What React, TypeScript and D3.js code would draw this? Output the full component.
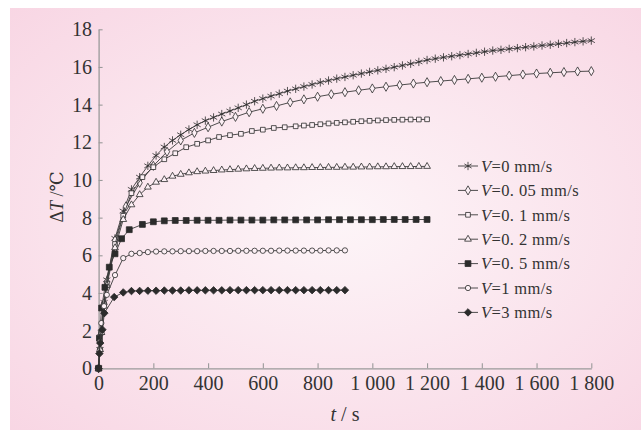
import { useEffect, useRef } from "react";
import * as d3 from "d3";

// legend speeds (mm/s)
const speedLabels = ["0", "0. 05", "0. 1", "0. 2", "0. 5", "1", "3"];
const xTickValues = [0, 200, 400, 600, 800, 1000, 1200, 1400, 1600, 1800];
const yTickValues = [0, 2, 4, 6, 8, 10, 12, 14, 16, 18];

// V = 0 mm/s
const timeV0 = [
  0, 5, 10, 20, 30, 60, 90, 120, 150, 180, 210, 240, 270, 300, 330, 360, 390, 420, 450, 480,
  510, 540, 570, 600, 630, 660, 690, 720, 750, 780, 810, 840, 870, 900, 930, 960, 990, 1020,
  1050, 1080, 1110, 1140, 1170, 1200, 1230, 1260, 1290, 1320, 1350, 1380, 1410, 1440, 1470,
  1500, 1530, 1560, 1590, 1620, 1650, 1680, 1710, 1740, 1770, 1800,
];
const tempV0 = [
  0, 1.0, 1.9, 3.5, 4.7, 6.9, 8.35, 9.5, 10.15, 10.75, 11.3, 11.75, 12.1, 12.4, 12.68, 12.93,
  13.15, 13.32, 13.5, 13.66, 13.83, 14.0, 14.18, 14.32, 14.45, 14.58, 14.72, 14.84, 14.96,
  15.07, 15.18, 15.28, 15.38, 15.47, 15.56, 15.65, 15.74, 15.82, 15.9, 15.99, 16.08, 16.17,
  16.27, 16.37, 16.44, 16.51, 16.57, 16.63, 16.69, 16.75, 16.81, 16.87, 16.91, 16.96, 17.0,
  17.05, 17.09, 17.14, 17.18, 17.23, 17.27, 17.32, 17.36, 17.4,
];

// V = 0.05 mm/s
const timeV005 = [
  0, 5, 10, 20, 30, 60, 100, 150, 200, 250, 300, 350, 400, 450, 500, 550, 600, 650, 700, 750,
  800, 850, 900, 950, 1000, 1050, 1100, 1150, 1200, 1250, 1300, 1350, 1400, 1450, 1500, 1550,
  1600, 1650, 1700, 1750, 1800,
];
const tempV005 = [
  0, 1.0, 1.9, 3.45, 4.6, 6.8, 8.6, 9.85, 10.75, 11.5, 12.1, 12.5, 12.8, 13.1, 13.35, 13.6,
  13.78, 13.93, 14.12, 14.28, 14.42, 14.55, 14.66, 14.76, 14.86, 14.95, 15.04, 15.12, 15.19,
  15.25, 15.31, 15.37, 15.43, 15.48, 15.54, 15.6, 15.65, 15.69, 15.73, 15.76, 15.78,
];

// V = 0.1 mm/s
const timeV01 = [
  0, 5, 10, 20, 30, 60, 90, 120, 160, 200, 240, 280, 320, 360, 400, 440, 480, 520, 560, 600,
  640, 680, 720, 750, 780, 810, 840, 870, 900, 930, 960, 990, 1020, 1050, 1080, 1110, 1140,
  1170, 1200,
];
const tempV01 = [
  0, 1.0, 1.9, 3.4, 4.5, 6.6, 8.1, 9.3, 10.15, 10.68, 11.1, 11.42, 11.74, 11.92, 12.1, 12.28,
  12.38, 12.45, 12.6, 12.67, 12.76, 12.8, 12.85, 12.89, 12.92, 12.96, 13.0, 13.03, 13.06,
  13.09, 13.12, 13.14, 13.16, 13.18, 13.19, 13.2, 13.21, 13.21, 13.22,
];

// V = 0.2 mm/s
const timeV02 = [
  0, 5, 10, 20, 30, 60, 90, 120, 150, 180, 210, 240, 270, 300, 330, 360, 390, 420, 450, 480,
  510, 540, 570, 600, 630, 660, 690, 720, 750, 780, 810, 840, 870, 900, 930, 960, 990, 1020,
  1050, 1080, 1110, 1140, 1170, 1200,
];
const tempV02 = [
  0, 1.0, 1.9, 3.3, 4.4, 6.4, 7.9, 8.68, 9.22, 9.62, 9.88, 10.02, 10.2, 10.3, 10.38, 10.44,
  10.47, 10.5, 10.53, 10.55, 10.57, 10.59, 10.61, 10.62, 10.63, 10.64, 10.64, 10.65, 10.65,
  10.66, 10.66, 10.67, 10.67, 10.68, 10.68, 10.69, 10.69, 10.7, 10.7, 10.71, 10.71, 10.71,
  10.72, 10.72,
];

// V = 0.5 mm/s
const timeV05 = [
  0, 3, 11, 23, 39, 60, 84, 112, 160, 200, 240, 280, 320, 360, 400, 440, 480, 520, 560, 600,
  640, 680, 720, 760, 800, 840, 880, 920, 960, 1000, 1040, 1080, 1120, 1160, 1200,
];
const tempV05 = [
  0, 1.6, 3.2, 4.3, 5.37, 6.08, 6.88, 7.36, 7.64, 7.78, 7.83, 7.85, 7.85, 7.86, 7.86, 7.86,
  7.87, 7.87, 7.87, 7.87, 7.88, 7.88, 7.88, 7.88, 7.88, 7.89, 7.89, 7.89, 7.89, 7.89, 7.9,
  7.9, 7.9, 7.9, 7.9,
];

// V = 1 mm/s
const timeV1 = [
  0, 5, 10, 20, 30, 60, 90, 120, 150, 180, 210, 240, 270, 300, 330, 360, 390, 420, 450, 480,
  510, 540, 570, 600, 630, 660, 690, 720, 750, 780, 810, 840, 870, 900,
];
const tempV1 = [
  0, 1.4, 2.4, 3.3, 3.9, 4.95, 5.85, 6.08, 6.12, 6.17, 6.2, 6.21, 6.21, 6.22, 6.22, 6.22,
  6.23, 6.23, 6.23, 6.23, 6.24, 6.24, 6.24, 6.24, 6.24, 6.25, 6.25, 6.25, 6.25, 6.25, 6.25,
  6.26, 6.26, 6.26,
];

// V = 3 mm/s
const timeV3 = [
  0, 3, 6, 14, 21, 57, 90, 120, 150, 180, 210, 240, 270, 300, 330, 360, 390, 420, 450, 480,
  510, 540, 570, 600, 630, 660, 690, 720, 750, 780, 810, 840, 870, 900,
];
const tempV3 = [
  0, 0.78, 1.34, 2.05, 2.93, 3.78, 4.03, 4.1, 4.11, 4.12, 4.12, 4.13, 4.13, 4.13, 4.14, 4.14,
  4.14, 4.14, 4.14, 4.15, 4.15, 4.15, 4.15, 4.15, 4.15, 4.15, 4.15, 4.15, 4.15, 4.15, 4.15,
  4.15, 4.15, 4.15,
];

const seriesTimes = [timeV0, timeV005, timeV01, timeV02, timeV05, timeV1, timeV3];
const seriesTemps = [tempV0, tempV005, tempV01, tempV02, tempV05, tempV1, tempV3];

const ink = "#2b2b2b";
const hollow = "#fcf0f5";
const serif = "'Liberation Serif', 'DejaVu Serif', serif";

function App() {
  const svgRef = useRef<SVGSVGElement>(null);

  useEffect(() => {
    const svg = d3.select(svgRef.current);
    svg.selectAll("*").remove();

    const x = d3.scaleLinear().domain([0, 1800]).range([98.6, 591.3]);
    const y = d3.scaleLinear().domain([0, 18]).range([368.3, 29.3]);

    const markers = [
      { symbol: d3.symbolAsterisk, size: 48, fill: "none" },
      { symbol: d3.symbolDiamond, size: 24, fill: hollow },
      { symbol: d3.symbolSquare, size: 22, fill: hollow },
      { symbol: d3.symbolTriangle, size: 20, fill: hollow },
      { symbol: d3.symbolSquare, size: 34, fill: ink },
      { symbol: d3.symbolCircle, size: 22, fill: hollow },
      { symbol: d3.symbolDiamond2 || d3.symbolDiamond, size: 36, fill: ink },
    ];

    // pink panel
    const grad = svg
      .append("defs")
      .append("radialGradient")
      .attr("id", "panelBg")
      .attr("cx", "52%")
      .attr("cy", "50%")
      .attr("r", "75%");
    grad.append("stop").attr("offset", "0%").attr("stop-color", "#fdf5f8");
    grad.append("stop").attr("offset", "100%").attr("stop-color", "#f8d5e3");
    svg
      .append("rect")
      .attr("x", 10)
      .attr("y", 8)
      .attr("width", 631)
      .attr("height", 422)
      .attr("fill", "url(#panelBg)");

    // axes
    const fmt = (d: number) =>
      d >= 1000 ? `${Math.floor(d / 1000)} ${String(d % 1000).padStart(3, "0")}` : `${d}`;

    const gx = svg
      .append("g")
      .attr("transform", `translate(0,${y(0)})`)
      .call(
        d3
          .axisBottom(x)
          .tickValues(xTickValues)
          .tickSizeInner(-5)
          .tickSizeOuter(0)
          .tickPadding(7.5)
          .tickFormat(fmt as any)
      );

    const gy = svg
      .append("g")
      .attr("transform", `translate(${x(0)},0)`)
      .call(
        d3
          .axisLeft(y)
          .tickValues(yTickValues)
          .tickSizeInner(-4)
          .tickSizeOuter(0)
          .tickPadding(6.5)
      );

    [gx, gy].forEach((g) => {
      g.attr("font-family", serif).attr("font-size", 20);
      g.select(".domain").attr("stroke", "#9a9a9a").attr("stroke-width", 1.3);
      g.selectAll(".tick line").attr("stroke", "#9a9a9a").attr("stroke-width", 1.1);
      g.selectAll(".tick text").attr("fill", "#333");
    });

    // axis titles
    const yTitle = svg
      .append("text")
      .attr("transform", "translate(57,197) rotate(-90)")
      .attr("text-anchor", "middle")
      .attr("dominant-baseline", "central")
      .attr("font-family", serif)
      .attr("font-size", 18)
      .attr("fill", "#333");
    yTitle.append("tspan").text("Δ");
    yTitle.append("tspan").attr("font-style", "italic").text("T");
    yTitle.append("tspan").text(" /℃");

    const xTitle = svg
      .append("text")
      .attr("x", 345)
      .attr("y", 421)
      .attr("text-anchor", "middle")
      .attr("font-family", serif)
      .attr("font-size", 20)
      .attr("fill", "#333");
    xTitle.append("tspan").attr("font-style", "italic").text("t");
    xTitle.append("tspan").text(" / s");

    // series
    const line = d3
      .line<[number, number]>()
      .x((d) => x(d[0]))
      .y((d) => y(d[1]));

    seriesTimes.forEach((times, i) => {
      const temps = seriesTemps[i];
      const pts = times
        .map((t, j) => [t, temps[j]] as [number, number])
        .filter((p) => p[1] !== undefined);
      const m = markers[i];
      const g = svg.append("g");

      g.append("path")
        .attr("d", line(pts))
        .attr("fill", "none")
        .attr("stroke", "#3a3a3a")
        .attr("stroke-width", 0.9);

      g.selectAll("path.mk")
        .data(pts)
        .enter()
        .append("path")
        .attr("class", "mk")
        .attr("transform", (d) => `translate(${x(d[0])},${y(d[1])})`)
        .attr("d", d3.symbol(m.symbol, m.size)())
        .attr("fill", m.fill)
        .attr("stroke", ink)
        .attr("stroke-width", 0.8);
    });

    // legend
    const legend = svg
      .append("g")
      .attr("font-family", serif)
      .attr("font-size", 16.5)
      .attr("fill", "#333");
    speedLabels.forEach((label, i) => {
      const ly = 166 + i * 24.4;
      const m = markers[i];
      legend
        .append("line")
        .attr("x1", 458)
        .attr("x2", 478)
        .attr("y1", ly)
        .attr("y2", ly)
        .attr("stroke", "#3a3a3a")
        .attr("stroke-width", 0.9);
      legend
        .append("path")
        .attr("transform", `translate(468,${ly})`)
        .attr("d", d3.symbol(m.symbol, m.size)())
        .attr("fill", m.fill)
        .attr("stroke", ink)
        .attr("stroke-width", 0.8);
      const t = legend
        .append("text")
        .attr("x", 481)
        .attr("y", ly)
        .attr("dy", "0.35em")
        .attr("letter-spacing", 0.4);
      t.append("tspan").attr("font-style", "italic").text("V");
      t.append("tspan").text(`=${label} mm/s`);
    });
  }, []);

  return (
    <svg
      ref={svgRef}
      width={641}
      height={430}
      style={{ position: "absolute", left: 0, top: 0, background: "#fff" }}
    />
  );
}

export default App;
